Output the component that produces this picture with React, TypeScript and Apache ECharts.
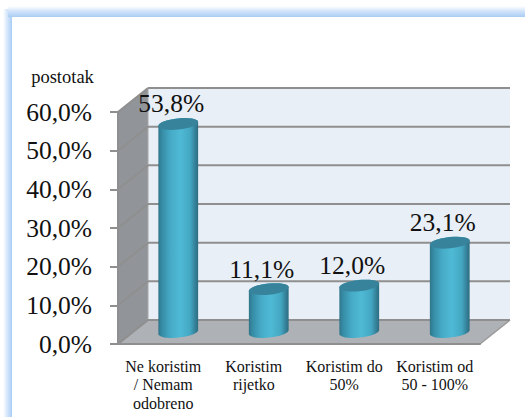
import React, { useEffect, useRef } from "react";
import * as echarts from "echarts";

const categories = ["Ne koristim\n/ Nemam\nodobreno", "Koristim\nrijetko", "Koristim do\n50%", "Koristim od\n50 - 100%"];
const shares = [53.8, 11.1, 12.0, 23.1];
const shareLabels = ["53,8%", "11,1%", "12,0%", "23,1%"];
const gridValues = [0, 10, 20, 30, 40, 50, 60];
const FONT = "'Liberation Serif', 'Times New Roman', serif";
const DX = 30;
const DY = -24;
const RX = 20;
const RY = 5.6;
const TILT = (-6 * Math.PI) / 180;

function ellipsePoint(cx: number, cy: number, t: number) {
  const ex = RX * Math.cos(t);
  const ey = RY * Math.sin(t);
  return [cx + ex * Math.cos(TILT) - ey * Math.sin(TILT), cy + ex * Math.sin(TILT) + ey * Math.cos(TILT)];
}

function arc(cx: number, cy: number, from: number, to: number) {
  const pts: number[][] = [];
  for (let i = 0; i <= 32; i++) pts.push(ellipsePoint(cx, cy, from + ((to - from) * i) / 32));
  return pts;
}

const bodyFill = new echarts.graphic.LinearGradient(0, 0, 1, 0, [
  { offset: 0, color: "#2f7489" },
  { offset: 0.08, color: "#358aa3" },
  { offset: 0.3, color: "#46aac6" },
  { offset: 0.55, color: "#4fbad5" },
  { offset: 0.8, color: "#44a7c2" },
  { offset: 0.93, color: "#347f97" },
  { offset: 1, color: "#2d6c80" },
]);

export default function App() {
  const ref = useRef<HTMLDivElement>(null);
  useEffect(() => {
    const chart = echarts.init(ref.current!, null, { renderer: "svg" });
    chart.setOption({
      animation: false,
      backgroundColor: "#ffffff",
      grid: { left: 118, top: 112, width: 362, height: 232, containLabel: false },
      xAxis: {
        type: "category",
        data: categories,
        z: 5,
        axisLine: { show: true, lineStyle: { color: "#8f8f8f", width: 2 } },
        axisTick: { show: false },
        axisLabel: { color: "#111", fontFamily: FONT, fontSize: 16, lineHeight: 18.5, margin: 13, interval: 0 },
        splitLine: { show: false },
      },
      yAxis: {
        type: "value",
        min: 0,
        max: 60,
        interval: 10,
        z: 5,
        axisLine: { show: true, lineStyle: { color: "#8f8f8f", width: 2 } },
        axisTick: { show: true, length: 8, lineStyle: { color: "#8f8f8f", width: 2 } },
        axisLabel: {
          color: "#111",
          fontFamily: FONT,
          fontSize: 25.5,
          margin: 26,
          padding: [3, 0, 0, 0],
          formatter: (v: number) => v.toFixed(1).replace(".", ",") + "%",
        },
        splitLine: { show: false },
      },
      graphic: [
        { type: "rect", silent: true, z: 10, shape: { x: 3, y: 9, width: 9, height: 408 }, style: { fill: new echarts.graphic.LinearGradient(0, 0, 1, 0, [
          { offset: 0, color: "#ffffff" }, { offset: 0.5, color: "#d3e5fa" }, { offset: 1, color: "#a9cdf5" },
        ]) } },
        { type: "rect", silent: true, z: 11, shape: { x: 8, y: 6, width: 517, height: 11 }, style: { fill: new echarts.graphic.LinearGradient(0, 0, 0, 1, [
          { offset: 0, color: "#ffffff" }, { offset: 0.5, color: "#cfe2f9" }, { offset: 1, color: "#a9cdf5" },
        ]) } },
        { type: "text", silent: true, z: 12, x: 62.5, y: 77, style: { text: "postotak", font: `18.5px ${FONT}`, fill: "#111", align: "center", verticalAlign: "middle" } },
      ],
      series: [
        {
          type: "custom",
          name: "frame",
          z: 1,
          silent: true,
          coordinateSystem: "cartesian2d",
          data: gridValues.map((v) => [0, v]),
          renderItem: (params: any, api: any) => {
            const cs = params.coordSys;
            const left = cs.x;
            const right = cs.x + cs.width;
            const y = api.coord([0, api.value(1)])[1];
            const line = { stroke: "#8f8f8f", lineWidth: 2, fill: "none" };
            const children: any[] = [];
            if (params.dataIndex === 0) {
              const top = cs.y;
              const bottom = cs.y + cs.height;
              children.push(
                { type: "polygon", shape: { points: [[left + DX, top + DY], [right + DX, top + DY], [right + DX, bottom + DY], [left + DX, bottom + DY]] }, style: { fill: "#e8eff6" } },
                { type: "polygon", shape: { points: [[left, top], [left + DX, top + DY], [left + DX, bottom + DY], [left, bottom]] }, style: { fill: "#919498" } },
                { type: "polygon", shape: { points: [[left, bottom], [left + DX, bottom + DY], [right + DX, bottom + DY], [right, bottom]] }, style: { fill: "#aeb1b5" } },
                { type: "line", shape: { x1: left + DX, y1: top + DY, x2: left + DX, y2: bottom + DY }, style: { stroke: "#a8a8a8", lineWidth: 1 } },
                { type: "line", shape: { x1: right, y1: bottom, x2: right + DX, y2: bottom + DY }, style: { stroke: "#9a9a9a", lineWidth: 1.5 } },
              );
            }
            children.push(
              { type: "line", shape: { x1: left, y1: y, x2: left + DX, y2: y + DY }, style: line },
              { type: "line", shape: { x1: left + DX, y1: y + DY, x2: right + DX, y2: y + DY }, style: line },
            );
            return { type: "group", children };
          },
        },
        {
          type: "custom",
          name: "shares",
          z: 3,
          silent: true,
          coordinateSystem: "cartesian2d",
          data: shares.map((v, i) => [i, v]),
          renderItem: (params: any, api: any) => {
            const i = api.value(0);
            const [cx0, topY0] = api.coord([i, api.value(1)]);
            const [, baseY0] = api.coord([i, 0]);
            const cx = cx0 + DX / 2;
            const topY = topY0 + DY / 2;
            const baseY = baseY0 + DY / 2;
            const body = [...arc(cx, topY, Math.PI, 2 * Math.PI), ...arc(cx, baseY, 0, Math.PI)];
            return {
              type: "group",
              children: [
                { type: "polygon", shape: { points: body }, style: { fill: bodyFill } },
                { type: "polygon", shape: { points: arc(cx, topY, 0, 2 * Math.PI) }, style: { fill: "#38839c" } },
                {
                  type: "text",
                  x: cx - 7,
                  y: topY - 20,
                  style: { text: shareLabels[params.dataIndex], font: `25.5px ${FONT}`, fill: "#111", align: "center", verticalAlign: "middle" },
                },
              ],
            };
          },
        },
      ],
    });
    return () => chart.dispose();
  }, []);
  return <div ref={ref} style={{ position: "fixed", left: 0, top: 0, width: 525, height: 417 }} />;
}
